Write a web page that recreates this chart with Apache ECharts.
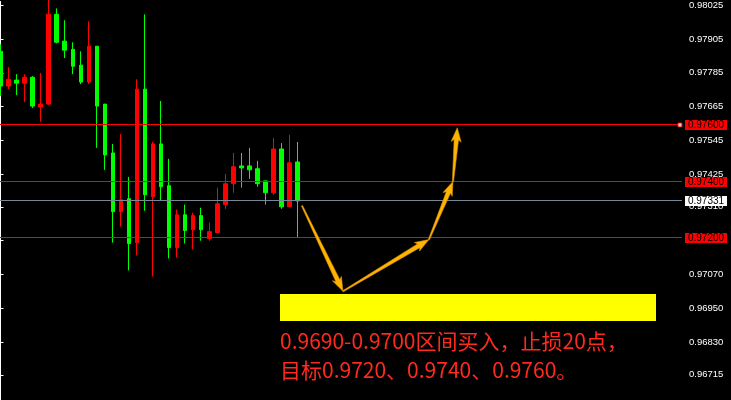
<!DOCTYPE html>
<html><head><meta charset="utf-8">
<script src="https://cdn.jsdelivr.net/npm/echarts@6/dist/echarts.min.js"></script>
<style>html,body{margin:0;padding:0;background:#000;}#c{width:731px;height:400px;}</style>
</head><body><div id="c"></div>
<script>
// ---- data ----
const opens  = [0.97861,0.97738,0.97759,0.97748,0.97769,0.97664,0.97674,0.97992,0.97897,0.97868,0.97812,0.97752,0.97879,0.97674,0.97501,0.97293,0.97339,0.97183,0.97727,0.97346,0.97533,0.97385,0.97166,0.97282,0.97229,0.97279,0.97198,0.97219,0.97318,0.97392,0.97455,0.97455,0.97445,0.97402,0.97360,0.97515,0.97310,0.97469];
const closes = [0.97738,0.97762,0.97748,0.97769,0.97667,0.97674,0.97992,0.97893,0.97865,0.97808,0.97752,0.97879,0.97667,0.97494,0.97293,0.97335,0.97180,0.97727,0.97353,0.97533,0.97381,0.97166,0.97282,0.97226,0.97279,0.97229,0.97222,0.97321,0.97392,0.97452,0.97448,0.97441,0.97392,0.97360,0.97515,0.97310,0.97466,0.97331];
const lows   = [0.97702,0.97727,0.97706,0.97681,0.97660,0.97611,0.97671,0.97889,0.97837,0.97780,0.97745,0.97745,0.97519,0.97441,0.97183,0.97240,0.97085,0.97138,0.97296,0.97063,0.97332,0.97127,0.97130,0.97180,0.97159,0.97190,0.97190,0.97219,0.97303,0.97360,0.97378,0.97409,0.97381,0.97318,0.97353,0.97303,0.97310,0.97201];
const highs  = [0.97886,0.97805,0.97780,0.97780,0.97773,0.97784,0.98050,0.98013,0.97971,0.97893,0.97861,0.97967,0.97879,0.97674,0.97533,0.97568,0.97416,0.97762,0.97992,0.97540,0.97685,0.97480,0.97300,0.97318,0.97289,0.97307,0.97254,0.97378,0.97427,0.97501,0.97501,0.97519,0.97473,0.97402,0.97554,0.97536,0.97565,0.97540];
const barSlots = 86; // visible bar slots on the chart (38 candles + empty space)
const categories = Array.from({length: barSlots}, (_, i) => String(i + 1));

const yTickValues = [0.98025,0.97905,0.97785,0.97665,0.97545,0.97425,0.97310,0.97190,0.97070,0.96950,0.96830,0.96715];
const yMin = 0.966258, yMax = 0.980377;

const levelLines = [0.97600, 0.97400, 0.97200];
const currentPrice = 0.97331;

const zoneX = [34.81, 81.63];
const zoneY = [0.97003, 0.96906];

const arrowPathX = [37.55, 42.65, 53.36, 56.35, 56.89];
const arrowPathY = [0.97314, 0.97011, 0.97194, 0.97400, 0.97590];

const handleX = [84.62], handleY = [0.97600];

const textLine1 = '0.9690-0.9700区间买入，止损20点，';
const textLine2 = '目标0.9720、0.9740、0.9760。';

// ---- build ----
const candleData = opens.map((o, i) => [o, closes[i], lows[i], highs[i]]);
const arrowSegs = [];
for (let i = 0; i < arrowPathX.length - 1; i++) arrowSegs.push([arrowPathX[i], arrowPathY[i], arrowPathX[i+1], arrowPathY[i+1]]);
const levelData = levelLines.map(v => [0, v, 0]).concat([[0, currentPrice, 1]]);

const chart = echarts.init(document.getElementById('c'), null, {renderer: 'canvas'});
const fmt = v => Number(v).toFixed(5);
const labelFont = 'Liberation Sans, Arial, sans-serif';
const cjkFont = '"Noto Sans CJK SC", sans-serif';

chart.setOption({
  animation: false,
  backgroundColor: '#000000',
  grid: {left: 0.5, right: 48, top: 0, bottom: 0, containLabel: false},
  xAxis: [
    {type: 'category', data: categories, boundaryGap: false, show: false},
    {type: 'value', min: 0, max: barSlots - 1, show: false}
  ],
  yAxis: {
    type: 'value', position: 'right', min: yMin, max: yMax, scale: true,
    splitLine: {show: false},
    axisLine: {show: true, lineStyle: {color: '#ffffff', width: 1}},
    axisTick: {show: true, customValues: yTickValues, length: 3, lineStyle: {color: '#ffffff'}},
    axisLabel: {customValues: yTickValues, color: '#ffffff', fontSize: 9.5, fontFamily: labelFont, margin: 6, formatter: fmt}
  },
  graphic: [
    {type: 'text', left: 280, top: 331, style: {text: textLine1, fill: '#ff2a1e', fontSize: 21, fontFamily: cjkFont}},
    {type: 'text', left: 280, top: 360, style: {text: textLine2, fill: '#ff2a1e', fontSize: 21, fontFamily: cjkFont}}
  ],
  series: [
    {
      type: 'candlestick', xAxisIndex: 0, yAxisIndex: 0, clip: false,
      data: candleData, barWidth: 4,
      itemStyle: {color: '#ff0000', color0: '#00ff00', borderColor: '#ff0000', borderColor0: '#00ff00', borderWidth: 1}
    },
    {
      type: 'custom', xAxisIndex: 1, yAxisIndex: 0, clip: false,
      data: [[zoneX[0], zoneY[0], zoneX[1], zoneY[1]]],
      renderItem: (params, api) => {
        const a = api.coord([api.value(0), api.value(1)]);
        const b = api.coord([api.value(2), api.value(3)]);
        return {type: 'rect', shape: {x: Math.round(a[0]), y: Math.round(a[1]), width: Math.round(b[0] - a[0]), height: Math.round(b[1] - a[1])}, style: {fill: '#ffff00'}};
      }
    },
    {
      type: 'custom', xAxisIndex: 1, yAxisIndex: 0, clip: false, z: 4,
      data: levelData,
      encode: {x: 0, y: 1},
      renderItem: (params, api) => {
        const cs = params.coordSys;
        const v = api.value(1), kind = api.value(2);
        const row = Math.round(api.coord([0, v])[1] - 0.5);
        const right = Math.round(cs.x + cs.width) - 1;
        const tagX = right + 3;
        return {type: 'group', children: [
          {type: 'rect', shape: {x: 0, y: row, width: right, height: 1}, style: {fill: kind ? '#778899' : '#ff0000'}},
          {type: 'rect', shape: {x: tagX, y: row - 4, width: 42, height: 10}, style: {fill: kind ? '#ffffff' : '#ff0000'}},
          {type: 'text', x: tagX + 21, y: row + 1.5, style: {text: fmt(v), fill: '#000000', fontSize: 10, fontFamily: labelFont, align: 'center', verticalAlign: 'middle'}}
        ]};
      }
    },
    {
      type: 'custom', xAxisIndex: 1, yAxisIndex: 0, clip: false, z: 5,
      data: arrowSegs,
      renderItem: (params, api) => {
        const p0 = api.coord([api.value(0), api.value(1)]);
        const p1 = api.coord([api.value(2), api.value(3)]);
        const dx = p1[0] - p0[0], dy = p1[1] - p0[1];
        const L = Math.hypot(dx, dy);
        const ux = dx / L, uy = dy / L, nx = -uy, ny = ux;
        const headLen = 12, headHalf = 5, shaftEnd = 2.2, shaftStart = 0.6;
        const bx = p1[0] - ux * headLen, by = p1[1] - uy * headLen;
        const pts = [
          [p0[0] + nx * shaftStart, p0[1] + ny * shaftStart],
          [bx + nx * shaftEnd, by + ny * shaftEnd],
          [bx + nx * headHalf - ux * 2, by + ny * headHalf - uy * 2],
          [p1[0], p1[1]],
          [bx - nx * headHalf - ux * 2, by - ny * headHalf - uy * 2],
          [bx - nx * shaftEnd, by - ny * shaftEnd],
          [p0[0] - nx * shaftStart, p0[1] - ny * shaftStart]
        ];
        return {type: 'polygon', shape: {points: pts}, style: {fill: '#ffb400', stroke: '#e09000', lineWidth: 0.6}};
      }
    },
    {
      type: 'scatter', xAxisIndex: 1, yAxisIndex: 0, z: 6, silent: true,
      data: handleX.map((x, i) => [x, handleY[i]]),
      symbol: 'rect', symbolSize: 4,
      itemStyle: {color: '#ffffff', borderColor: '#ff0000', borderWidth: 1}
    }
  ]
});
</script>
</body></html>
